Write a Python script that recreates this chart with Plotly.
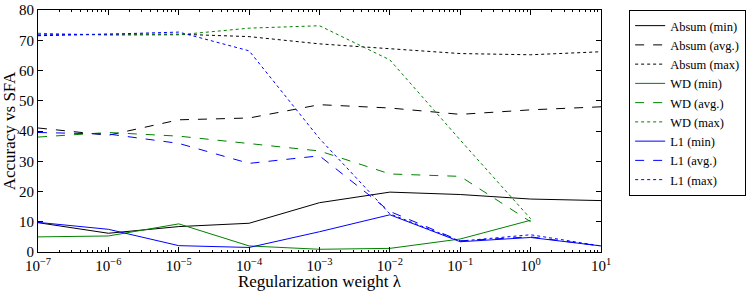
import plotly.graph_objects as go

lam = [1e-7, 1e-6, 1e-5, 1e-4, 1e-3, 1e-2, 1e-1, 1e0, 1e1]
lam_wd = lam[:8]

absum_min = [9.7, 6.2, 8.4, 9.5, 16.3, 19.8, 19.0, 17.5, 17.0]
absum_avg = [41.0, 38.6, 43.7, 44.3, 48.7, 47.6, 45.5, 47.0, 48.0]
absum_max = [71.5, 72.0, 72.0, 71.2, 68.8, 67.2, 65.6, 65.2, 66.2]

wd_min = [5.0, 5.3, 9.3, 2.0, 0.9, 1.2, 4.3, 10.5]
wd_avg = [38.0, 39.5, 38.3, 35.8, 33.4, 25.8, 25.0, 10.0]
wd_max = [72.3, 71.7, 71.8, 74.0, 74.8, 63.5, 37.0, 11.0]

l1_min = [9.8, 7.5, 2.1, 1.5, 6.7, 12.3, 3.4, 4.8, 2.0]
l1_avg = [39.5, 39.0, 35.9, 29.3, 31.8, 13.4, 3.7, 5.0, 2.0]
l1_max = [71.8, 72.0, 72.7, 66.5, 37.5, 12.6, 3.6, 5.7, 2.0]

x_tickvals = [1e-7, 1e-6, 1e-5, 1e-4, 1e-3, 1e-2, 1e-1, 1e0, 1e1]
x_ticktext = ["10<sup>−7</sup>", "10<sup>−6</sup>", "10<sup>−5</sup>", "10<sup>−4</sup>",
              "10<sup>−3</sup>", "10<sup>−2</sup>", "10<sup>−1</sup>", "10<sup>0</sup>", "10<sup>1</sup>"]

series = [
    ("Absum (min)", lam, absum_min, "black", "solid"),
    ("Absum (avg.)", lam, absum_avg, "black", "dash"),
    ("Absum (max)", lam, absum_max, "black", "dot"),
    ("WD (min)", lam_wd, wd_min, "green", "solid"),
    ("WD (avg.)", lam_wd, wd_avg, "green", "dash"),
    ("WD (max)", lam_wd, wd_max, "green", "dot"),
    ("L1 (min)", lam, l1_min, "blue", "solid"),
    ("L1 (avg.)", lam, l1_avg, "blue", "dash"),
    ("L1 (max)", lam, l1_max, "blue", "dot"),
]

fig = go.Figure()
for name, xs, ys, col, dash in series:
    fig.add_trace(go.Scatter(x=xs, y=ys, mode="lines", name=name,
                             line=dict(color=col, dash=dash, width=1)))

minor_vals = []
for e in range(-7, 1):
    for m in range(2, 10):
        minor_vals.append(m * 10 ** e)

font = "Liberation Serif, DejaVu Serif, serif"
fig.update_layout(
    width=747, height=291,
    margin=dict(l=38, r=146, t=10, b=39, autoexpand=False),
    paper_bgcolor="white", plot_bgcolor="white",
    font=dict(family=font, color="black", size=14),
    showlegend=True,
    legend=dict(x=1.05, y=1.0, xanchor="left", yanchor="top",
                bordercolor="black", borderwidth=1, font=dict(size=12.5),
                tracegroupgap=0, itemwidth=30),
    xaxis=dict(type="log", range=[-7, 1], tickvals=x_tickvals, ticktext=x_ticktext,
               ticks="inside", ticklen=5, tickcolor="black", showgrid=False, automargin=False,
               zeroline=False, showline=True, linecolor="black", linewidth=1, mirror="ticks",
               minor=dict(tickvals=minor_vals, ticks="inside", ticklen=2, tickcolor="black",
                          showgrid=False),
               title=dict(text="Regularization weight λ", font=dict(size=17)),
               tickfont=dict(size=15)),
    yaxis=dict(range=[0, 80], dtick=10, ticks="inside", ticklen=5, tickcolor="black",
               showgrid=False, zeroline=False, showline=True, linecolor="black", linewidth=1,
               automargin=False, mirror="ticks",
               title=dict(text="Accuracy vs SFA", font=dict(size=17)),
               tickfont=dict(size=15)),
)

fig.write_html("out.html", config={"displayModeBar": False},
               post_script="document.body.style.margin='0';")
